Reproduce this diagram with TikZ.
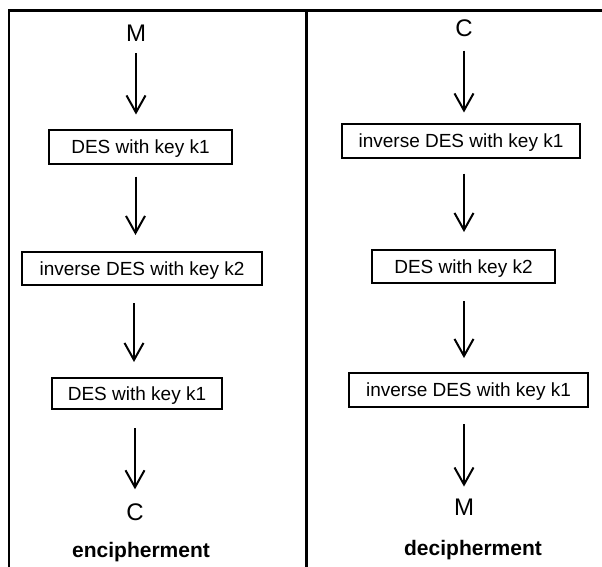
\documentclass[tikz,border=0pt]{standalone}
\usepackage{fontspec}
\setmainfont{Liberation Sans}
\usetikzlibrary{arrows.meta}

\begin{document}
\begin{tikzpicture}[x=1pt,y=-1pt,
  stage/.style={draw, line width=2pt, inner sep=0pt, minimum height=33pt, text height=14pt, text depth=1pt, font=\fontsize{19}{21}\selectfont},
  msg/.style={inner sep=0pt, font=\fontsize{24}{26}\selectfont},
  title/.style={inner sep=0pt, font=\bfseries\fontsize{21}{23}\selectfont},
  arr/.style={line width=2pt, -{Straight Barb[length=17pt,width=19pt,line width=2pt]}}
]
\useasboundingbox (0,0) rectangle (602,567);

% Frame
\draw[line width=2.4pt] (9,567) -- (9,10.5) -- (602,10.5);
\draw[line width=2.4pt] (306.5,10.5) -- (306.5,567);

% Encipherment
\node[msg] (m1) at (136,33) {M};
\node[stage, minimum width=183pt] (e1) at (140.5,147) {DES with key k1};
\node[stage, minimum width=240pt] (e2) at (142,268.5) {inverse DES with key k2};
\node[stage, minimum width=170pt, minimum height=31pt] (e3) at (137,393.5) {DES with key k1};
\node[msg] (c1) at (135,512) {C};
\node[title] (enc) at (141,552) {encipherment};

\draw[arr] ([yshift=-12pt]m1.south) -- ([yshift=15pt]m1.south |- e1.north);
\draw[arr] ([xshift=-5pt,yshift=-12pt]e1.south) -- ([xshift=-5pt,yshift=16pt]e1.south |- e2.north);
\draw[arr] ([xshift=-8pt,yshift=-17pt]e2.south) -- ([xshift=-8pt,yshift=15pt]e2.south |- e3.north);
\draw[arr] ([yshift=-18pt]c1 |- e3.south) -- ([yshift=14pt]c1.north);

% Decipherment
\node[msg] (c2) at (464,28) {C};
\node[stage, minimum width=238pt] (d1) at (461,141) {inverse DES with key k1};
\node[stage, minimum width=183pt] (d2) at (463.5,266.5) {DES with key k2};
\node[stage, minimum width=239pt, minimum height=34pt] (d3) at (468.5,390) {inverse DES with key k1};
\node[msg] (m2) at (464,507) {M};
\node[title] (dec) at (473,550) {decipherment};

\draw[arr] ([yshift=-14pt]c2.south) -- ([yshift=11pt]c2.south |- d1.north);
\draw[arr] ([yshift=-15pt]c2 |- d1.south) -- ([yshift=17pt]c2 |- d2.north);
\draw[arr] ([yshift=-17pt]c2 |- d2.south) -- ([yshift=14pt]c2 |- d3.north);
\draw[arr] ([yshift=-16pt]m2 |- d3.south) -- ([yshift=12pt]m2.north);
\end{tikzpicture}
\end{document}
